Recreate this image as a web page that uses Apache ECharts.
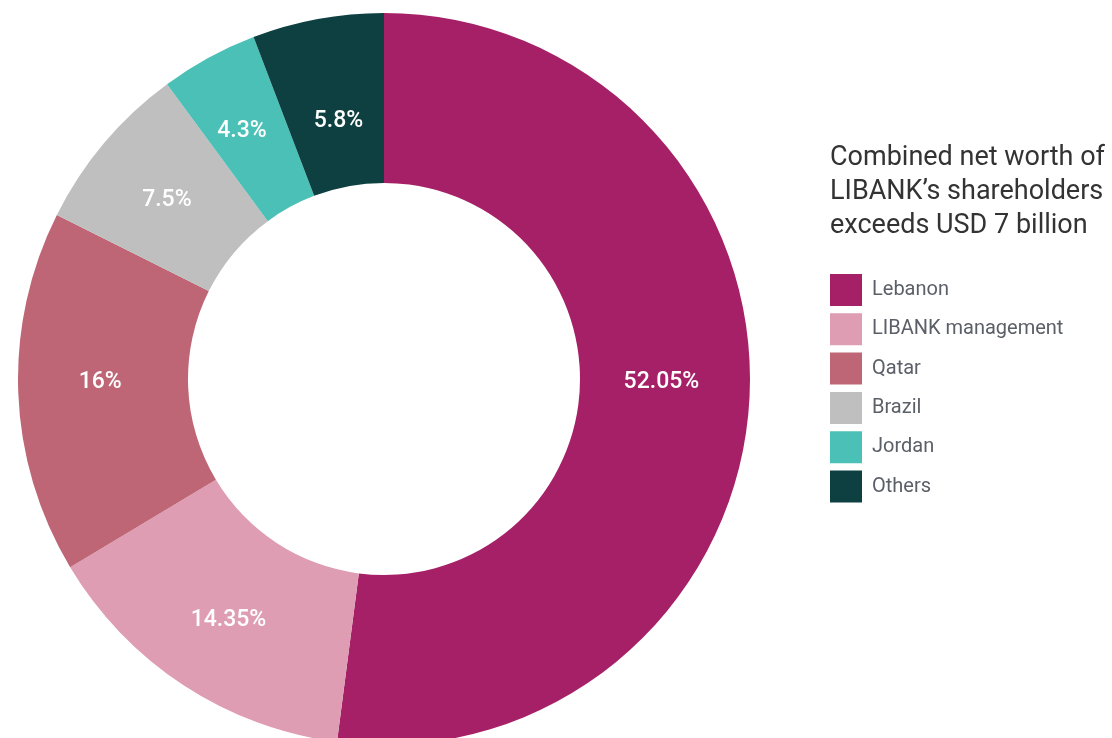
<!DOCTYPE html>
<html>
<head>
<meta charset="utf-8">
<script src="https://cdn.jsdelivr.net/npm/echarts@6/dist/echarts.min.js"></script>
<style>
  html, body { margin: 0; padding: 0; background: #ffffff; }
  #chart { width: 1112px; height: 738px; }
</style>
</head>
<body>
<div id="chart"></div>
<script>
// shareholder split, clockwise from 12 o'clock
const categories = ['Lebanon', 'LIBANK management', 'Qatar', 'Brazil', 'Jordan', 'Others']
const shares = [52.05, 14.35, 16, 7.5, 4.3, 5.8]
const colors = ['#A62067', '#DE9DB2', '#BE6675', '#BFBFBF', '#4BC0B6', '#0E4042']
// nudges so the labels sit where the original put them
const labelNudge = [[-6, -15], [0, 4], [0, -7], [0, 4], [-6, 2], [6, 22]]

const myChart = echarts.init(document.getElementById('chart'))

const option = {
  animation: false,
  title: {
    text: 'Combined net worth of\nLIBANK\u2019s shareholders\nexceeds USD 7 billion',
    left: 830,
    top: 141,
    padding: 0,
    textStyle: {
      fontFamily: 'Roboto',
      fontWeight: 'normal',
      fontSize: 27,
      lineHeight: 34,
      color: '#333333',
    },
  },
  legend: {
    orient: 'vertical',
    left: 830,
    top: 274,
    padding: 0,
    itemWidth: 32,
    itemHeight: 32,
    itemGap: 7.3,
    icon: 'rect',
    data: categories,
    textStyle: {
      fontFamily: 'Roboto',
      fontSize: 20,
      color: '#5b6068',
      padding: [0, 0, 0, 5],
    },
  },
  series: [
    {
      type: 'pie',
      center: [384, 379],
      radius: [196, 366],
      startAngle: 90,
      clockwise: true,
      avoidLabelOverlap: false,
      label: {
        show: true,
        position: 'inside',
        formatter: '{c}%',
        color: '#ffffff',
        fontFamily: 'Roboto',
        fontSize: 23,
        fontWeight: 500,
      },
      labelLine: { show: false },
      itemStyle: { borderWidth: 0 },
      emphasis: { disabled: true },
      data: categories.map((name, i) => ({
        name: name,
        value: shares[i],
        itemStyle: { color: colors[i] },
        label: { offset: labelNudge[i] },
      })),
    },
  ],
}

myChart.setOption(option)
</script>
</body>
</html>
